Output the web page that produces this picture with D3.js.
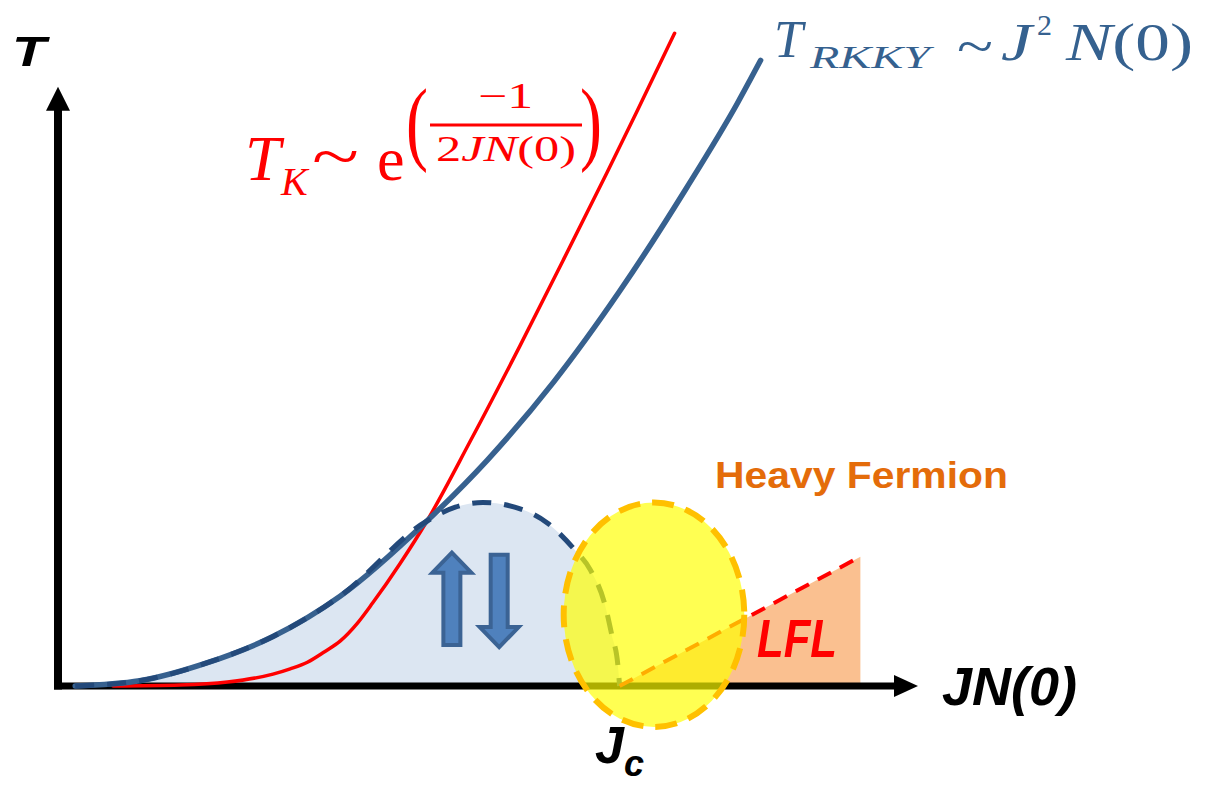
<!DOCTYPE html>
<html><head><meta charset="utf-8">
<script src="https://cdn.jsdelivr.net/npm/d3@7/dist/d3.min.js"></script>
<style>body{margin:0;background:#fff}svg{display:block}</style>
</head><body><svg id="c" width="1207" height="785"></svg>
<script>
// ---- data (J N(0) in arbitrary units, T in arbitrary units) ----
const rkkyJ  = [0.20,0.95,1.73,2.50,3.28,4.29,4.99,5.76,6.53,7.31,7.90,8.17];
const rkkyT  = [0.00,0.08,0.35,0.75,1.36,2.50,3.42,4.60,5.98,7.55,8.83,9.48];
const kondoJ = [0.64,1.42,1.97,2.50,2.70,2.90,3.10,3.28,3.48,3.66,3.98,4.29,4.79,5.37,5.87,6.38,6.73,7.17];
const kondoT = [0.00,0.015,0.06,0.18,0.26,0.36,0.52,0.68,0.95,1.26,1.86,2.50,3.70,5.15,6.44,7.77,8.70,9.89];
const afmJ   = [0.20,0.95,1.73,2.50,3.28,4.29,4.62,4.94,5.31,5.69,6.01,6.19,6.36,6.44,6.51,6.53];
const afmT   = [0.00,0.08,0.35,0.75,1.36,2.50,2.71,2.78,2.71,2.47,2.06,1.76,1.23,0.77,0.32,0.00];
const lflJ   = [6.53,9.33,9.33];
const lflT   = [0.00,1.96,0.00];
const jcCenter = [6.93,1.08];
const jcRadius = [1.05,1.70];
const spinJ   = [4.58,5.13];        // up arrow, down arrow
const spinT0  = [0.62,1.99];        // tail
const spinT1  = [2.02,0.59];        // tip
const axisMax = [10,9.08];

const svg = d3.select("#c");
const x = d3.scaleLinear().domain([0,10]).range([58,918]);
const y = d3.scaleLinear().domain([0,10]).range([686,26]);
const zip = (a,b)=>a.map((v,i)=>[v,b[i]]);
const line = d3.line().x(d=>x(d[0])).y(d=>y(d[1])).curve(d3.curveMonotoneX);
const lineLin = d3.line().x(d=>x(d[0])).y(d=>y(d[1]));

// AFM dome fill
svg.append("path").attr("d", line(zip(afmJ,afmT))+"Z").attr("fill","#dce6f2");
// LFL region
svg.append("path").attr("d", lineLin(zip(lflJ,lflT))+"Z").attr("fill","#fac090");

// axes
const X0=x(0), Y0=y(0), XM=x(axisMax[0]), YM=y(axisMax[1]);
svg.append("line").attr("x1",X0-4).attr("x2",XM-22).attr("y1",Y0).attr("y2",Y0)
  .attr("stroke","#000").attr("stroke-width",7);
svg.append("path").attr("d",`M${XM},${Y0}L${XM-24},${Y0-11}L${XM-24},${Y0+11}Z`).attr("fill","#000");
svg.append("line").attr("x1",X0).attr("x2",X0).attr("y1",Y0+3.5).attr("y2",YM+22)
  .attr("stroke","#000").attr("stroke-width",8);
svg.append("path").attr("d",`M${X0},${YM}L${X0-12},${YM+24}L${X0+12},${YM+24}Z`).attr("fill","#000");

// Kondo curve
svg.append("path").attr("d", line(zip(kondoJ,kondoT))).attr("fill","none")
  .attr("stroke","#ff0000").attr("stroke-width",3.5).attr("stroke-linecap","round");
// RKKY curve
svg.append("path").attr("d", line(zip(rkkyJ,rkkyT))).attr("fill","none")
  .attr("stroke","#37618f").attr("stroke-width",5.5).attr("stroke-linecap","round");
// AFM dome dashed
svg.append("path").attr("d", line(zip(afmJ,afmT))).attr("fill","none")
  .attr("stroke","#23497a").attr("stroke-width",5).attr("stroke-dasharray","19 13");
// LFL crossover dashed
svg.append("path").attr("d", lineLin(zip(lflJ.slice(0,2),lflT.slice(0,2)))).attr("fill","none")
  .attr("stroke","#ff0000").attr("stroke-width",4).attr("stroke-dasharray","15 10");

// spin arrows
spinJ.forEach((j,i)=>{
  const cx=x(j), t0=y(spinT0[i]), t1=y(spinT1[i]);
  const dir = t1<t0 ? -1 : 1, hw=8.5, hh=19.5, hl=20;
  const hb = t1 - dir*hl;
  const p = `M${cx-hw},${t0}L${cx-hw},${hb}L${cx-hh},${hb}L${cx},${t1}L${cx+hh},${hb}L${cx+hw},${hb}L${cx+hw},${t0}Z`;
  svg.append("path").attr("d",p).attr("fill","#4f81bd").attr("stroke","#3b6394").attr("stroke-width",4).attr("stroke-linejoin","miter");
});

// Jc ellipse
const ell = ()=>svg.append("ellipse").attr("cx",x(jcCenter[0])).attr("cy",y(jcCenter[1]))
  .attr("rx",x(jcRadius[0])-x(0)).attr("ry",y(0)-y(jcRadius[1]));
ell().attr("fill","#ffff00").attr("fill-opacity",0.68);
ell().attr("fill","none").attr("stroke","#ffc000").attr("stroke-width",6).attr("stroke-dasharray","22 12");

// ---- text ----
const sans="'Liberation Sans', Arial, sans-serif", serif="'Liberation Serif','Times New Roman',serif";
function txt(s,px,py,o){
  const t=svg.append("text").attr("x",px).attr("y",py).text(s)
    .attr("font-family",o.ff||sans).attr("font-size",o.fs).attr("fill",o.c||"#000")
    .attr("font-weight",o.fw||"normal").attr("font-style",o.st||"normal");
  if(o.tl){t.attr("textLength",o.tl).attr("lengthAdjust","spacingAndGlyphs");}
  return t;
}
txt("T",12,66,{fs:42,fw:"bold",st:"italic",tl:34});
txt("JN(0)",942,705,{fs:54,fw:"bold",st:"italic",tl:135});
txt("J",595,763,{fs:52,fw:"bold",st:"italic"});
txt("c",624,776,{fs:36,fw:"bold",st:"italic"});
txt("Heavy Fermion",715,488,{fs:36,fw:"bold",c:"#e46c0a",tl:293});
txt("LFL",757,657,{fs:54,fw:"bold",st:"italic",c:"#ff0000",tl:80});

// T_K formula
const red="#ff0000";
txt("T",245,180,{ff:serif,fs:64,st:"italic",c:red});
txt("K",281,195,{ff:serif,fs:40,st:"italic",c:red});
txt("~",312,178,{ff:serif,fs:64,c:red,tl:47});
txt("e",377,180,{ff:serif,fs:62,c:red});
txt("(",406,153,{ff:serif,fs:94,c:red,tl:22});
txt(")",580,153,{ff:serif,fs:94,c:red,tl:22});
txt("\u22121",478,108,{ff:serif,fs:36,c:red,tl:55});
svg.append("line").attr("x1",430).attr("x2",582).attr("y1",125).attr("y2",125).attr("stroke",red).attr("stroke-width",3);
const den=svg.append("text").attr("x",436).attr("y",161).attr("font-family",serif).attr("font-size",36).attr("fill",red)
  .attr("textLength",140).attr("lengthAdjust","spacingAndGlyphs");
den.append("tspan").text("2");
den.append("tspan").attr("font-style","italic").text("JN");
den.append("tspan").text("(0)");

// T_RKKY formula
const blue="#35618f";
txt("T",774,57,{ff:serif,fs:52,st:"italic",c:blue});
txt("RKKY",810,68,{ff:serif,fs:32,st:"italic",c:blue,tl:120});
txt("~",957,64,{ff:serif,fs:52,c:blue,tl:36});
txt("J",1001,60,{ff:serif,fs:52,st:"italic",c:blue,tl:31});
txt("2",1037,35,{ff:serif,fs:30,c:blue});
const nn=svg.append("text").attr("x",1066).attr("y",60).attr("font-family",serif).attr("font-size",52).attr("fill",blue)
  .attr("textLength",127).attr("lengthAdjust","spacingAndGlyphs");
nn.append("tspan").attr("font-style","italic").text("N");
nn.append("tspan").text("(0)");
</script></body></html>
